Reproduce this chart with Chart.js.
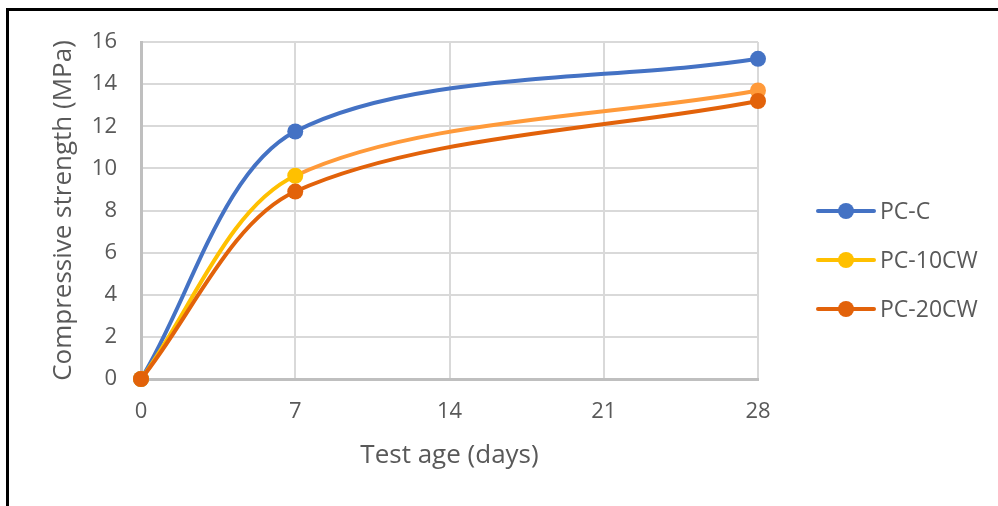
<!DOCTYPE html>
<html>
<head>
<meta charset="utf-8">
<script src="https://cdn.jsdelivr.net/npm/chart.js@4/dist/chart.umd.min.js"></script>
<style>
  html, body { margin: 0; padding: 0; background: #fff; }
  #marco { position: absolute; left: 6px; top: 8px; width: 992px; height: 498px;
           border-left: 3px solid #000; border-top: 3px solid #000; box-sizing: border-box; }
  #grafico { position: absolute; left: 0; top: 0; }
  #leyenda { position: absolute; left: 816px; top: 196px; font-family: "Open Sans", sans-serif;
             font-size: 23px; color: #595959; }
  .item { position: relative; height: 49px; }
  .linea { position: absolute; left: 0; top: 13px; width: 60px; height: 4px; border-radius: 2px; }
  .punto { position: absolute; left: 22px; top: 7px; width: 16px; height: 16px; border-radius: 50%; }
  .texto { position: absolute; left: 64px; top: -1px; line-height: 30px; white-space: nowrap; }
</style>
</head>
<body>
<div id="marco"></div>
<canvas id="grafico" width="998" height="506"></canvas>
<div id="leyenda"></div>
<script>
// Datos
const dias = [0, 7, 28];
const resistPCC = [0, 11.75, 15.2];
const resistPC10 = [0, 9.65, 13.7];
const resistPC20 = [0, 8.9, 13.2];
const nombres = ['PC-C', 'PC-10CW', 'PC-20CW'];
const ticksX = [0, 7, 14, 21, 28];
const ticksY = [0, 2, 4, 6, 8, 10, 12, 14, 16];

const azul = '#4472C4';
const amarillo = '#FFC000';
const naranjaClaro = '#FF9A3A';
const naranja = '#E2620A';
const gris = '#595959';
const fuente = 'Open Sans';

// puntos x/y para escala lineal
const puntos = serie => dias.map((d, i) => ({ x: d, y: serie[i] }));

const datasets = [
  {
    label: nombres[0], data: puntos(resistPCC), order: 3,
    borderColor: azul, backgroundColor: azul, pointBackgroundColor: azul
  },
  {
    label: nombres[1], data: puntos(resistPC10), order: 2,
    borderColor: amarillo, backgroundColor: amarillo,
    pointBackgroundColor: [amarillo, amarillo, naranjaClaro],
    segment: { borderColor: c => c.p0DataIndex === 0 ? amarillo : naranjaClaro }
  },
  {
    label: nombres[2], data: puntos(resistPC20), order: 1,
    borderColor: naranja, backgroundColor: naranja, pointBackgroundColor: naranja
  }
].map(ds => Object.assign({
  borderWidth: 4,
  tension: 0.31,
  pointRadius: 8,
  pointBorderWidth: 0,
  fill: false,
  clip: false
}, ds));

new Chart(document.getElementById('grafico'), {
  type: 'line',
  data: { datasets },
  options: {
    responsive: false,
    animation: false,
    layout: { padding: { left: 40, right: 240, top: 42, bottom: 31 } },
    plugins: { legend: { display: false }, tooltip: { enabled: false } },
    scales: {
      x: {
        type: 'linear', min: 0, max: 28,
        afterBuildTicks: s => { s.ticks = ticksX.map(v => ({ value: v })); },
        afterFit: s => { s.height = 96; },
        grid: { color: '#D9D9D9', lineWidth: 2, drawTicks: false },
        border: { color: '#BFBFBF', width: 3 },
        ticks: { color: gris, padding: 20, font: { family: fuente, size: 22 } },
        title: { display: true, text: 'Test age (days)', color: gris,
                 padding: { top: 0, bottom: 4 }, font: { family: fuente, size: 26 } }
      },
      y: {
        min: 0, max: 16,
        afterBuildTicks: s => { s.ticks = ticksY.map(v => ({ value: v })); },
        afterFit: s => { s.width = 101; },
        grid: { color: c => c.tick && c.tick.value === 0 ? '#BFBFBF' : '#D9D9D9',
                lineWidth: c => c.tick && c.tick.value === 0 ? 3 : 2, drawTicks: false },
        border: { color: '#BFBFBF', width: 3 },
        ticks: { color: gris, padding: 24, font: { family: fuente, size: 22 } },
        title: { display: true, text: 'Compressive strength (MPa)', color: gris,
                 padding: { top: 8, bottom: 0 }, font: { family: fuente, size: 26 } }
      }
    }
  }
});

// Leyenda a la derecha
const coloresLeyenda = [azul, amarillo, naranja];
const $ley = document.getElementById('leyenda');
nombres.forEach((n, i) => {
  const fila = document.createElement('div');
  fila.className = 'item';
  fila.innerHTML = `<div class="linea" style="background:${coloresLeyenda[i]}"></div>` +
    `<div class="punto" style="background:${coloresLeyenda[i]}"></div>` +
    `<div class="texto">${n}</div>`;
  $ley.appendChild(fila);
});
</script>
</body>
</html>
